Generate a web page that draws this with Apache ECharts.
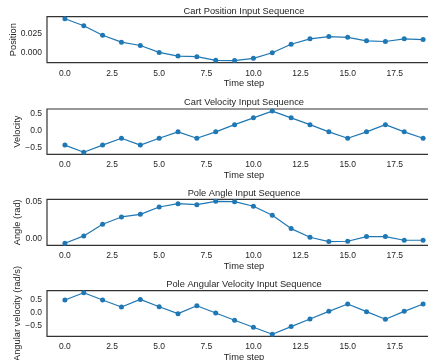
<!DOCTYPE html>
<html><head><meta charset="utf-8">
<script src="https://cdn.jsdelivr.net/npm/echarts@6/dist/echarts.min.js"></script>
<style>html,body{margin:0;padding:0;background:#fff}#c{width:428px;height:360px}</style>
</head><body><div id="c"></div>
<script>
const timeSteps = [0,1,2,3,4,5,6,7,8,9,10,11,12,13,14,15,16,17,18,19];
const cartPosition = [0.0451,0.0359,0.0232,0.0140,0.0096,0.0004,-0.0045,-0.0053,-0.0101,-0.0105,-0.0075,0.0000,0.0113,0.0184,0.0215,0.0205,0.0158,0.0149,0.0184,0.0175];
const cartVelocity = [-0.425,-0.632,-0.425,-0.226,-0.425,-0.226,-0.038,-0.226,-0.038,0.170,0.368,0.566,0.368,0.170,-0.038,-0.226,-0.038,0.170,-0.038,-0.226];
const poleAngle = [-0.0058,0.0040,0.0195,0.0292,0.0327,0.0425,0.0469,0.0456,0.0500,0.0496,0.0434,0.0314,0.0137,0.0022,-0.0035,-0.0031,0.0031,0.0031,-0.0018,-0.0018];
const poleAngularVelocity = [0.500,0.789,0.500,0.224,0.526,0.237,-0.040,0.276,-0.013,-0.303,-0.579,-0.855,-0.553,-0.250,0.053,0.342,0.040,-0.263,0.053,0.342];
const xTicks = [0,2.5,5,7.5,10,12.5,15,17.5];
const yTicksPos = [0,0.025];
const yTicksVel = [-0.5,0,0.5];
const yTicksAng = [0,0.05];
const yTicksAngVel = [-0.5,0,0.5];
const titles = ['Cart Position Input Sequence','Cart Velocity Input Sequence','Pole Angle Input Sequence','Pole Angular Velocity Input Sequence'];
const yNames = ['Position','Velocity','Angle (rad)','Angular velocity (rad/s)'];

const FONT = '"Liberation Sans", Arial, sans-serif';
const TXT = '#262626';
const BLUE = '#1f77b4';
const minus = s => s.replace('-', '\u2212');

const panels = [
  {data: cartPosition, ymin: -0.0133, ymax: 0.0479, ticks: yTicksPos, dec: 3, top: 16.7, h: 46, gap: 29, tTop: 6.5},
  {data: cartVelocity, ymin: -0.692, ymax: 0.626, ticks: yTicksVel, dec: 1, top: 109, h: 45.3, gap: 25, tTop: 97.5},
  {data: poleAngle, ymin: -0.0085, ymax: 0.0527, ticks: yTicksAng, dec: 2, top: 199.3, h: 46, gap: 25, tTop: 188.5},
  {data: poleAngularVelocity, ymin: -0.937, ymax: 0.871, ticks: yTicksAngVel, dec: 1, top: 290.7, h: 45.6, gap: 25, tTop: 280}
];

const option = {
  animation: false,
  backgroundColor: '#fff',
  title: panels.map((p, i) => ({
    text: titles[i], left: 244, top: p.tTop, textAlign: 'center', padding: 0,
    textStyle: {fontFamily: FONT, fontSize: 9.3, fontWeight: 'normal', color: TXT}
  })),
  grid: panels.map(p => ({left: 47, width: 394, top: p.top, height: p.h, show: true, outerBoundsMode: 'none', containLabel: false,
    borderColor: '#333333', borderWidth: 1.2, backgroundColor: 'transparent'})),
  xAxis: panels.map((p, i) => ({
    type: 'value', gridIndex: i, min: -0.95, max: 19.95,
    name: 'Time step', nameLocation: 'middle', nameGap: 16.5, nameMoveOverlap: false,
    nameTextStyle: {fontFamily: FONT, fontSize: 9.3, color: TXT},
    axisLine: {show: false}, axisTick: {show: false}, splitLine: {show: false},
    axisLabel: {customValues: xTicks, margin: 6, fontFamily: FONT, fontSize: 8.5, color: TXT,
      formatter: v => v.toFixed(1)}
  })),
  yAxis: panels.map((p, i) => ({
    type: 'value', gridIndex: i, min: p.ymin, max: p.ymax,
    name: yNames[i], nameLocation: 'middle', nameGap: p.gap, nameRotate: 90, nameMoveOverlap: false,
    nameTextStyle: {fontFamily: FONT, fontSize: 9.3, color: TXT},
    axisLine: {show: false}, axisTick: {show: false}, splitLine: {show: false},
    axisLabel: {customValues: p.ticks, margin: 5, fontFamily: FONT, fontSize: 8.5, color: TXT,
      formatter: v => minus(v.toFixed(p.dec))}
  })),
  series: panels.map((p, i) => ({
    type: 'line', xAxisIndex: i, yAxisIndex: i,
    data: timeSteps.map((t, k) => [t, p.data[k]]),
    symbol: 'circle', symbolSize: 5,
    lineStyle: {color: BLUE, width: 1.2},
    itemStyle: {color: BLUE}
  }))
};
const chart = echarts.init(document.getElementById('c'), null, {renderer: 'canvas'});
chart.setOption(option);
</script></body></html>
